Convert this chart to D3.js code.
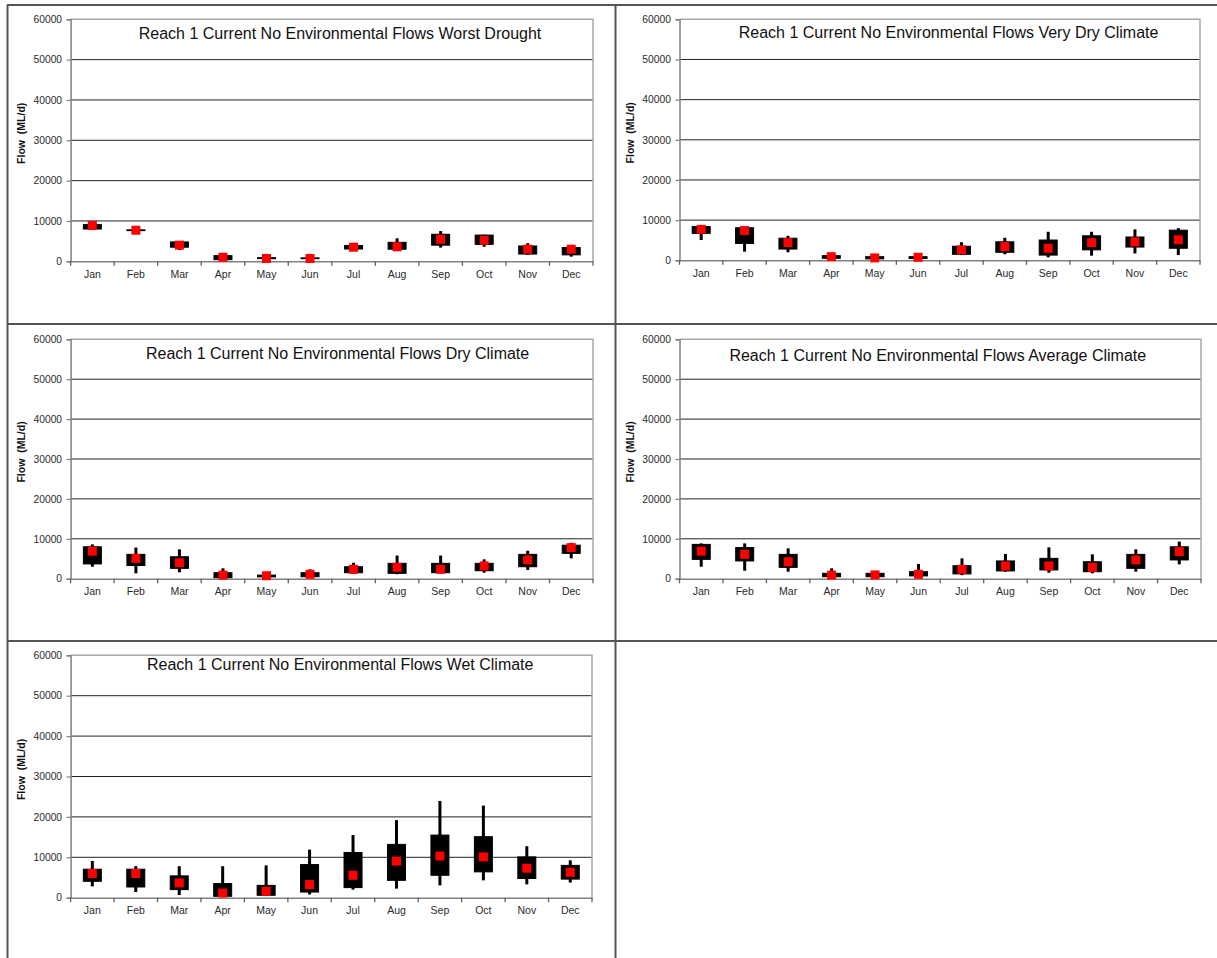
<!DOCTYPE html>
<html>
<head>
<meta charset="utf-8">
<script src="https://cdn.jsdelivr.net/npm/d3@7"></script>
<style>
  html, body { margin: 0; padding: 0; background: #fff; }
  svg { display: block; }
  text { font-family: "Liberation Sans", Arial, sans-serif; }
</style>
</head>
<body>
<svg id="chart" width="1217" height="958"></svg>
<script>
// ---------------- DATA ----------------
const months = ["Jan","Feb","Mar","Apr","May","Jun","Jul","Aug","Sep","Oct","Nov","Dec"];
const yTicks = [0, 10000, 20000, 30000, 40000, 50000, 60000];
const yAxisTitle = "Flow  (ML/d)";

const titles = [
  "Reach 1 Current No Environmental Flows Worst Drought",
  "Reach 1 Current No Environmental Flows Very Dry Climate",
  "Reach 1 Current No Environmental Flows Dry Climate",
  "Reach 1 Current No Environmental Flows Average Climate",
  "Reach 1 Current No Environmental Flows Wet Climate"
];

// each row: [min, lower box, upper box, max, centre (red marker)]
const worstDrought = [
  [7800, 8000, 9100, 9500, 8900],
  [7600, 7600, 7800, 7800, 7700],
  [2800, 3500, 4800, 4900, 4000],
  [300, 400, 1400, 1500, 1000],
  [600, 650, 900, 900, 700],
  [600, 650, 850, 900, 700],
  [3000, 3050, 3900, 4200, 3500],
  [2550, 3000, 4700, 5700, 3600],
  [3400, 4000, 6700, 7500, 5450],
  [3600, 4200, 6500, 6600, 5200],
  [1600, 1800, 3800, 4500, 3000],
  [1150, 1600, 3400, 3600, 3000]
];
const veryDry = [
  [5050, 6700, 8400, 8800, 7700],
  [2150, 4200, 8100, 8200, 7400],
  [2000, 2800, 5500, 6100, 4400],
  [500, 500, 1150, 1150, 900],
  [300, 350, 900, 900, 600],
  [400, 450, 900, 900, 750],
  [1300, 1500, 3500, 4500, 2600],
  [1500, 2000, 4600, 5600, 3400],
  [750, 1300, 5050, 7100, 3000],
  [1150, 2600, 6100, 7100, 4400],
  [1700, 3300, 5800, 7700, 4600],
  [1300, 3000, 7500, 8000, 5100]
];
const dryClimate = [
  [3000, 3700, 8000, 8600, 6900],
  [1350, 3300, 6100, 7800, 5100],
  [1600, 2600, 5500, 7350, 4000],
  [200, 250, 1500, 2600, 900],
  [400, 450, 900, 900, 750],
  [500, 500, 1500, 2350, 1100],
  [1300, 1500, 3000, 4000, 2350],
  [1100, 1350, 3850, 5800, 2850],
  [1350, 1500, 3850, 5800, 2350],
  [1500, 2000, 3850, 4850, 3200],
  [2200, 3000, 6100, 7000, 4700],
  [5100, 6350, 8400, 9000, 7800]
];
const averageClimate = [
  [3000, 4850, 8600, 8850, 6900],
  [2000, 4450, 7800, 8850, 6100],
  [1750, 2850, 6100, 7600, 4250],
  [500, 500, 1350, 2600, 900],
  [500, 500, 1350, 1900, 950],
  [700, 700, 1750, 3700, 1100],
  [900, 1200, 3250, 5100, 2350],
  [1750, 1950, 4450, 6200, 3200],
  [1500, 2200, 5100, 7850, 3200],
  [1350, 1750, 4250, 6100, 2850],
  [1750, 2600, 6100, 7350, 4700],
  [3600, 4700, 8000, 9300, 6800]
];
const wetClimate = [
  [2800, 4060, 7050, 9100, 6000],
  [1400, 2650, 7050, 7800, 6000],
  [650, 2000, 5400, 7800, 3650],
  [150, 350, 3500, 7800, 1150],
  [600, 600, 3050, 8000, 1600],
  [800, 1400, 8200, 11900, 3250],
  [2000, 2500, 11200, 15500, 5550],
  [2250, 4300, 13200, 19200, 9050],
  [3050, 5550, 15500, 23950, 10300],
  [4300, 6400, 15100, 22800, 10100],
  [3300, 4750, 10100, 12750, 7300],
  [3750, 4600, 8000, 9250, 6300]
];
const scenarios = [worstDrought, veryDry, dryClimate, averageClimate, wetClimate];

// ---------------- LAYOUT ----------------
const frames = [
  {left: 70.6, top: 19.3, right: 593, bottom: 261.3, tx: 340, ty: 33.7},
  {left: 679.5, top: 19.3, right: 1200, bottom: 260.3, tx: 948.6, ty: 32.3},
  {left: 70.6, top: 339.3, right: 593, bottom: 578.7, tx: 337.6, ty: 353.3},
  {left: 679.5, top: 339.3, right: 1201, bottom: 578.7, tx: 937.8, ty: 355},
  {left: 70.6, top: 655.3, right: 592, bottom: 897.7, tx: 340.2, ty: 664.3}
];

const svg = d3.select("#chart");

// panel separator lines
const sep = svg.append("g").attr("stroke", "#555").attr("stroke-width", 2).attr("fill", "none");
sep.append("line").attr("x1", 7).attr("x2", 1217).attr("y1", 5).attr("y2", 5);
sep.append("line").attr("x1", 7.5).attr("x2", 7.5).attr("y1", 5).attr("y2", 958);
sep.append("line").attr("x1", 615.5).attr("x2", 615.5).attr("y1", 5).attr("y2", 958);
sep.append("line").attr("x1", 7).attr("x2", 1217).attr("y1", 324).attr("y2", 324);
sep.append("line").attr("x1", 7).attr("x2", 1217).attr("y1", 641).attr("y2", 641);

scenarios.forEach((data, i) => {
  const f = frames[i];
  const g = svg.append("g");
  const x = d3.scaleBand().domain(months).range([f.left, f.right]);
  const y = d3.scaleLinear().domain([0, 60000]).range([f.bottom, f.top]);

  // gridlines
  g.append("g").selectAll("line").data(yTicks.filter(v => v > 0 && v < 60000)).join("line")
    .attr("x1", f.left).attr("x2", f.right)
    .attr("y1", d => y(d)).attr("y2", d => y(d))
    .attr("stroke", "#222").attr("stroke-width", 1);

  // plot border (top & right)
  g.append("path")
    .attr("d", `M${f.left},${y(60000)}H${f.right}V${y(0)}`)
    .attr("fill", "none").attr("stroke", "#a8a8a8").attr("stroke-width", 1.5);

  // y axis
  const ya = g.append("g").attr("transform", `translate(${f.left},0)`)
    .call(d3.axisLeft(y).tickValues(yTicks).tickSize(4).tickPadding(4.5).tickFormat(d3.format("d")));
  ya.select(".domain").attr("stroke", "#808080").attr("stroke-width", 1.5);
  ya.selectAll(".tick line").attr("stroke", "#808080").attr("stroke-width", 1.2);
  ya.selectAll("text").attr("font-size", "10.3px").attr("fill", "#2a2a2a")
    .attr("font-family", "Liberation Sans, Arial, sans-serif");

  // x axis
  const xa = g.append("g").attr("transform", `translate(0,${f.bottom})`)
    .call(d3.axisBottom(x).tickSize(0).tickPadding(9));
  xa.select(".domain").attr("stroke", "#808080").attr("stroke-width", 1.5);
  xa.selectAll("text").attr("font-size", "10.5px").attr("fill", "#2a2a2a")
    .attr("font-family", "Liberation Sans, Arial, sans-serif");
  const bounds = months.map(m => x(m)).concat([x(months[11]) + x.bandwidth()]);
  g.append("g").selectAll("line").data(bounds).join("line")
    .attr("x1", d => d).attr("x2", d => d)
    .attr("y1", f.bottom).attr("y2", f.bottom + 4.5)
    .attr("stroke", "#606060").attr("stroke-width", 1.3);

  // y title
  g.append("text")
    .attr("transform", `translate(${f.left - 46},${(f.top + f.bottom) / 2 - 7}) rotate(-90)`)
    .attr("text-anchor", "middle")
    .attr("font-size", "10.5px").attr("font-weight", "bold").attr("fill", "#111")
    .style("white-space", "pre")
    .text(yAxisTitle);

  // chart title
  g.append("text")
    .attr("x", f.tx).attr("y", f.ty + 5.5)
    .attr("text-anchor", "middle")
    .attr("font-size", "16px").attr("fill", "#111")
    .text(titles[i]);

  // marks
  const boxW = 18, whiskW = 3, dot = 9;
  const cx = m => x(m) + x.bandwidth() / 2;
  const marks = g.append("g");
  marks.selectAll(".whisk").data(data).join("rect")
    .attr("x", (d, j) => cx(months[j]) - whiskW / 2)
    .attr("width", whiskW)
    .attr("y", d => y(d[3]))
    .attr("height", d => Math.max(0, y(d[0]) - y(d[3])))
    .attr("fill", "#000");
  marks.selectAll(".box").data(data).join("rect")
    .attr("x", (d, j) => cx(months[j]) - boxW / 2)
    .attr("width", boxW)
    .attr("y", d => y(d[2]))
    .attr("height", d => Math.max(0, y(d[1]) - y(d[2])))
    .attr("fill", "#000").attr("stroke", "#000").attr("stroke-width", 1);
  marks.selectAll(".dot").data(data).join("rect")
    .attr("x", (d, j) => cx(months[j]) - dot / 2)
    .attr("y", d => y(d[4]) - dot / 2)
    .attr("width", dot).attr("height", dot)
    .attr("fill", "#ff0000");
});
</script>
</body>
</html>
